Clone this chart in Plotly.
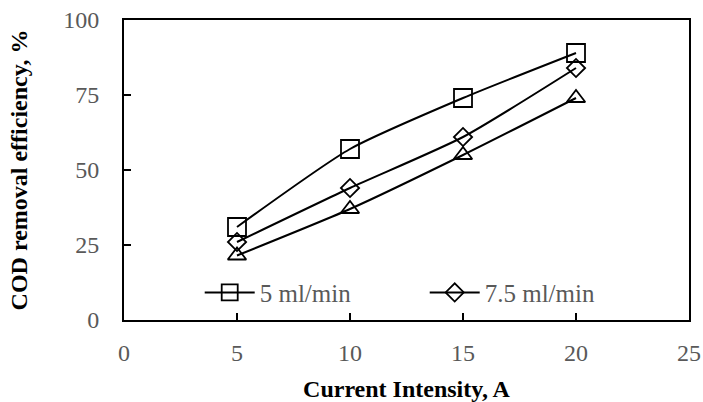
import plotly.graph_objects as go

current = [5, 10, 15, 20]
s_5 = [31, 57, 74, 89]
s_75 = [26, 44, 61, 84]
s_10 = [21.5, 37, 55, 74]
names = ["5 ml/min", "7.5 ml/min", "10 ml/min"]
x_ticks = [0, 5, 10, 15, 20, 25]
y_ticks = [0, 25, 50, 75, 100]

FONT = "Liberation Serif, Times New Roman, serif"
GRAY = "#595959"

fig = go.Figure()
series = [(s_5, "square-open", 18, names[0], True),
          (s_75, "diamond-open", 14, names[1], True),
          (s_10, "triangle-up-open", 16, names[2], False)]
for vals, sym, sz, nm, show in series:
    fig.add_trace(go.Scatter(
        x=current, y=vals, name=nm, mode="lines+markers",
        line=dict(color="black", width=2, shape="spline", smoothing=0.6),
        marker=dict(symbol=sym, size=sz, color="black", line=dict(width=1.8, color="black")),
        showlegend=show,
    ))

axis_common = dict(
    showline=True, linecolor="black", linewidth=2, mirror=True,
    ticks="inside", ticklen=7, tickwidth=2, tickcolor="black",
    showgrid=False, zeroline=False, automargin=False,
    ticklabeloverflow="allow",
    tickfont=dict(family=FONT, size=24, color=GRAY),
)
fig.update_xaxes(range=[0, 25], tickvals=x_ticks, ticklabelstandoff=10,
                 title=dict(text="<b>Current Intensity, A</b>", font=dict(family=FONT, size=24, color="black"), standoff=18),
                 **axis_common)
fig.update_yaxes(range=[0, 100], tickvals=y_ticks, ticklabelstandoff=18,
                 title=dict(text="<b>COD removal efficiency, %</b>", font=dict(family=FONT, size=24, color="black"), standoff=29),
                 **axis_common)

fig.update_layout(
    width=703, height=402,
    margin=dict(l=124, r=14, t=20, b=82),
    paper_bgcolor="white", plot_bgcolor="white",
    showlegend=True,
    legend=dict(orientation="h", x=0.134, y=0.091, xanchor="left", yanchor="middle",
                bgcolor="rgba(0,0,0,0)", itemwidth=50, entrywidth=160,
                font=dict(family=FONT, size=25, color=GRAY)),
)
fig.write_html("out.html", config={"displayModeBar": False},
               post_script="document.body.style.margin='0';document.body.style.overflow='hidden';")
